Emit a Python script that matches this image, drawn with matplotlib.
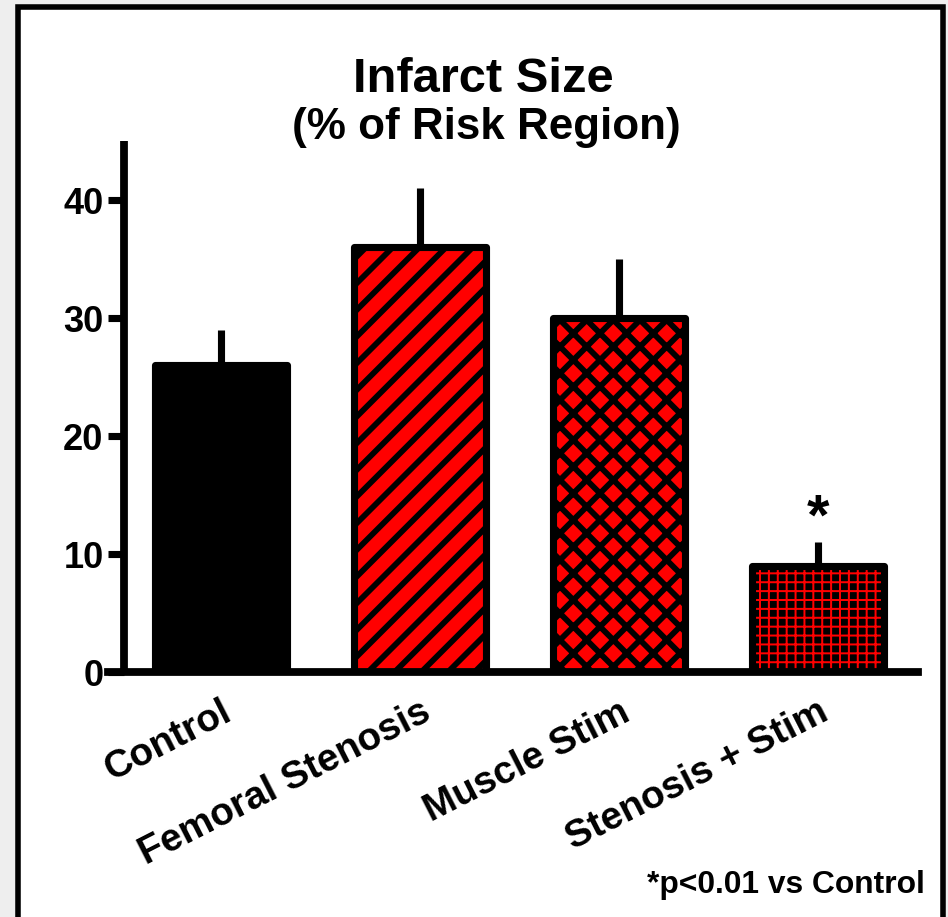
import matplotlib
matplotlib.use("Agg")
import matplotlib.pyplot as plt
from matplotlib.patches import Rectangle

# data
groups = ["Control", "Femoral Stenosis", "Muscle Stim", "Stenosis + Stim"]
infarct = [26, 36, 30, 9]
sem = [3, 5, 5, 2]
face_colors = ["black", "red", "red", "black"]
hatch_colors = ["black", "black", "black", "red"]
hatches = [None, "//", "xx", "+++"]
hatch_widths = [1.0, 2.6, 2.6, 0.9]
yticks = [0, 10, 20, 30, 40]

plt.rcParams["font.family"] = ["Liberation Sans", "DejaVu Sans"]
plt.rcParams["font.weight"] = "bold"

DPI = 160
fig = plt.figure(figsize=(948 / DPI, 917 / DPI), dpi=DPI, facecolor="#eeeeee")

# white panel with black frame, open at the bottom
fig.patches.append(Rectangle((0.0185, -0.05), 0.9762, 1.0424,
                             transform=fig.transFigure, facecolor="white",
                             edgecolor="black", linewidth=2.5, zorder=-5))

ax = fig.add_axes([108 / 948, 1 - 672 / 917, 810 / 948, (672 - 141) / 917])
ax.set_facecolor("none")

x = list(range(len(groups)))
width = 0.66

# error bars (upper only, no caps), sitting behind the bars
ax.errorbar(x, infarct, yerr=[[0] * len(sem), sem], fmt="none",
            ecolor="black", elinewidth=3.2, capsize=0, zorder=1)

for i in x:
    with plt.rc_context({"hatch.linewidth": hatch_widths[i]}):
        b = ax.bar(i, infarct[i], width=width, color=face_colors[i],
                   edgecolor=hatch_colors[i], hatch=hatches[i],
                   linewidth=0, zorder=2)
    for p in b:
        if hasattr(p, "set_hatch_linewidth"):
            p.set_hatch_linewidth(hatch_widths[i])

# outlines on top
ax.bar(x, infarct, width=width, color="none", edgecolor="black",
       linewidth=3.2, joinstyle="round", zorder=3)

ax.text(3, 12.9, "*", ha="center", va="center", fontsize=26,
        fontweight="bold")

ax.set_xlim(-0.568, 3.503)
ax.set_ylim(0, 45)
ax.set_yticks(yticks)
ax.set_yticklabels([str(v) for v in yticks])
ax.set_xticks(x)
ax.set_xticklabels(groups, rotation=27, ha="right", rotation_mode="anchor")
ax.tick_params(axis="x", length=0, pad=10, labelsize=17.4)
ax.tick_params(axis="y", length=7.2, width=3.2, pad=2, labelsize=16.3)
for lab in ax.get_xticklabels() + ax.get_yticklabels():
    lab.set_fontweight("bold")

for s in ["top", "right"]:
    ax.spines[s].set_visible(False)
ax.spines["left"].set_position(("axes", 16 / 810))
ax.spines["left"].set_linewidth(3.5)
ax.spines["bottom"].set_linewidth(3.5)
ax.spines["left"].set_capstyle("butt")

fig.text(483 / 948, 1 - 79 / 917, "Infarct Size", ha="center", va="center",
         fontsize=22, fontweight="bold")
fig.text(486 / 948, 1 - 128 / 917, "(% of Risk Region)", ha="center",
         va="center", fontsize=19.8, fontweight="bold")
fig.text(925 / 948, 1 - 885 / 917, "*p<0.01 vs Control", ha="right",
         va="center", fontsize=14.3, fontweight="bold")

fig.savefig("out.png", dpi=DPI, facecolor=fig.get_facecolor())
